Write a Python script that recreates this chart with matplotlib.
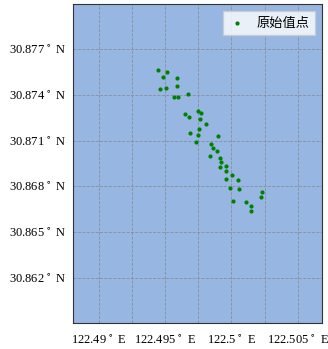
import numpy as np
import matplotlib.pyplot as plt
from matplotlib.ticker import MultipleLocator, FixedLocator, FuncFormatter

plt.rcParams['font.family'] = ['Liberation Serif', 'Noto Sans CJK SC']

# 原始值点 (经度, 纬度)
lon = [122.49447, 122.49512, 122.49482, 122.49589, 122.49589, 122.49459, 122.49503,
       122.49569, 122.49596, 122.49670, 122.49650, 122.49680, 122.49749, 122.49767,
       122.49761, 122.49809, 122.49758, 122.49685, 122.49746, 122.49901, 122.49731,
       122.49847, 122.49858, 122.49889, 122.49840, 122.49914, 122.49923, 122.49962,
       122.49915, 122.49959, 122.50003, 122.49957, 122.50051, 122.49985, 122.50058,
       122.50233, 122.50224, 122.50015, 122.50112, 122.50144, 122.50144]
lat = [30.87560, 30.87551, 30.87519, 30.87512, 30.87456, 30.87438, 30.87443,
       30.87388, 30.87388, 30.87407, 30.87272, 30.87253, 30.87294, 30.87279,
       30.87242, 30.87211, 30.87178, 30.87148, 30.87135, 30.87128, 30.87089,
       30.87076, 30.87052, 30.87034, 30.87002, 30.86986, 30.86958, 30.86936,
       30.86927, 30.86899, 30.86875, 30.86849, 30.86840, 30.86788, 30.86781,
       30.86761, 30.86733, 30.86704, 30.86700, 30.86670, 30.86639]

lat_ticks = [30.862, 30.865, 30.868, 30.871, 30.874, 30.877]
lon_ticks = [122.49, 122.495, 122.5, 122.505]

fig = plt.figure(figsize=(3.28, 3.49), dpi=100)
ax = fig.add_axes([73/328, 26/349, 249/328, 319/349])
ax.set_facecolor(np.array((152, 183, 226)) / 256)

ax.scatter(lon, lat, s=4, color='green', zorder=3, label='原始值点')

ax.set_xlim(122.48804, 122.50683)
ax.set_ylim(30.85905, 30.87995)

ax.xaxis.set_major_locator(FixedLocator(lon_ticks))
ax.xaxis.set_minor_locator(MultipleLocator(0.0025))
ax.yaxis.set_major_locator(FixedLocator(lat_ticks))
ax.xaxis.set_major_formatter(FuncFormatter(lambda v, p: '%g$^\\circ$ E' % round(v, 3)))
ax.yaxis.set_major_formatter(FuncFormatter(lambda v, p: '%.3f$^\\circ$ N' % v))
ax.tick_params(which='both', length=0, labelsize=9)
ax.tick_params(axis='x', pad=8)
ax.tick_params(axis='y', pad=5)
ax.grid(True, which='both', color='gray', linestyle='--', linewidth=0.6, alpha=0.7)

for s in ax.spines.values():
    s.set_color('#333333')
    s.set_linewidth(0.8)

ax.legend(loc='upper right', markerscale=1.0, handlelength=1.2, handletextpad=0.9,
          borderpad=0.45, fancybox=False, framealpha=0.8, edgecolor='#cccccc',
          borderaxespad=0.5, prop={'family': ['Noto Sans CJK SC'], 'size': 9.5})

plt.savefig('out.png', dpi=100)
